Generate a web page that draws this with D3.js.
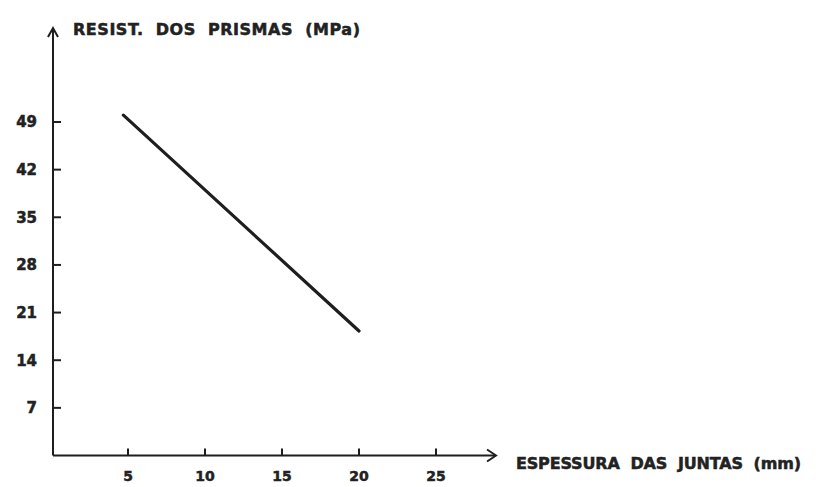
<!DOCTYPE html>
<html><head><meta charset="utf-8">
<script src="https://cdn.jsdelivr.net/npm/d3@7"></script>
<style>body{margin:0;background:#fff}svg{display:block}text{font-family:"DejaVu Sans",sans-serif;font-weight:bold;fill:#222;stroke:#222;stroke-width:0.5px}</style>
</head><body><script>
const xTicks = [5, 10, 15, 20, 25];
const yTicks = [7, 14, 21, 28, 35, 42, 49];
const lineX = [4.7, 20];
const lineY = [50, 18.3];
const yTitle = "RESIST.  DOS  PRISMAS  (MPa)";
const xTitle = "ESPESSURA  DAS  JUNTAS  (mm)";

const W = 827, H = 487;
const svg = d3.select("body").append("svg").attr("width", W).attr("height", H);
const x = d3.scaleLinear().domain([0, 25]).range([51, 436]);
const y = d3.scaleLinear().domain([0, 49]).range([455.5, 122]);
const ink = "#1e1e1e";

svg.append("line").attr("x1", x(0) + 2).attr("x2", x(0) + 2).attr("y1", y(0)).attr("y2", 28)
  .attr("stroke", ink).attr("stroke-width", 2);
svg.append("line").attr("x1", x(0) + 2).attr("x2", 495).attr("y1", y(0)).attr("y2", y(0))
  .attr("stroke", ink).attr("stroke-width", 2);
svg.append("path").attr("d", `M${x(0)-3},37 L${x(0)+2},28 L${x(0)+7},37`).attr("fill", "none").attr("stroke", ink).attr("stroke-width", 2);
svg.append("path").attr("d", `M487,${y(0)-6} L496,${y(0)} L487,${y(0)+6}`).attr("fill", "none").attr("stroke", ink).attr("stroke-width", 2);

const yg = svg.append("g");
yTicks.forEach(v => {
  yg.append("line").attr("x1", x(0) + 2).attr("x2", x(0) + 10).attr("y1", y(v)).attr("y2", y(v)).attr("stroke", ink).attr("stroke-width", 2);
  yg.append("text").attr("x", 37).attr("y", y(v)).attr("dy", "0.36em").attr("text-anchor", "end")
    .attr("font-size", 15).text(v);
});
const xg = svg.append("g");
xTicks.forEach(v => {
  xg.append("line").attr("x1", x(v)).attr("x2", x(v)).attr("y1", y(0)).attr("y2", y(0) - 7).attr("stroke", ink).attr("stroke-width", 2);
  xg.append("text").attr("x", x(v)).attr("y", 481).attr("text-anchor", "middle")
    .attr("font-size", 14).text(v);
});

const pts = lineX.map((d, i) => [d, lineY[i]]);
svg.append("path").datum(pts)
  .attr("d", d3.line().x(d => x(d[0])).y(d => y(d[1])))
  .attr("fill", "none").attr("stroke", ink).attr("stroke-width", 3.2).attr("stroke-linecap", "round");

svg.append("text").attr("x", 73).attr("y", 35).attr("font-size", 16)
  .attr("textLength", 287).attr("lengthAdjust", "spacing").style("white-space", "pre").text(yTitle);
svg.append("text").attr("x", 516).attr("y", 469).attr("font-size", 16)
  .attr("textLength", 285).attr("lengthAdjust", "spacing").style("white-space", "pre").text(xTitle);
</script></body></html>
